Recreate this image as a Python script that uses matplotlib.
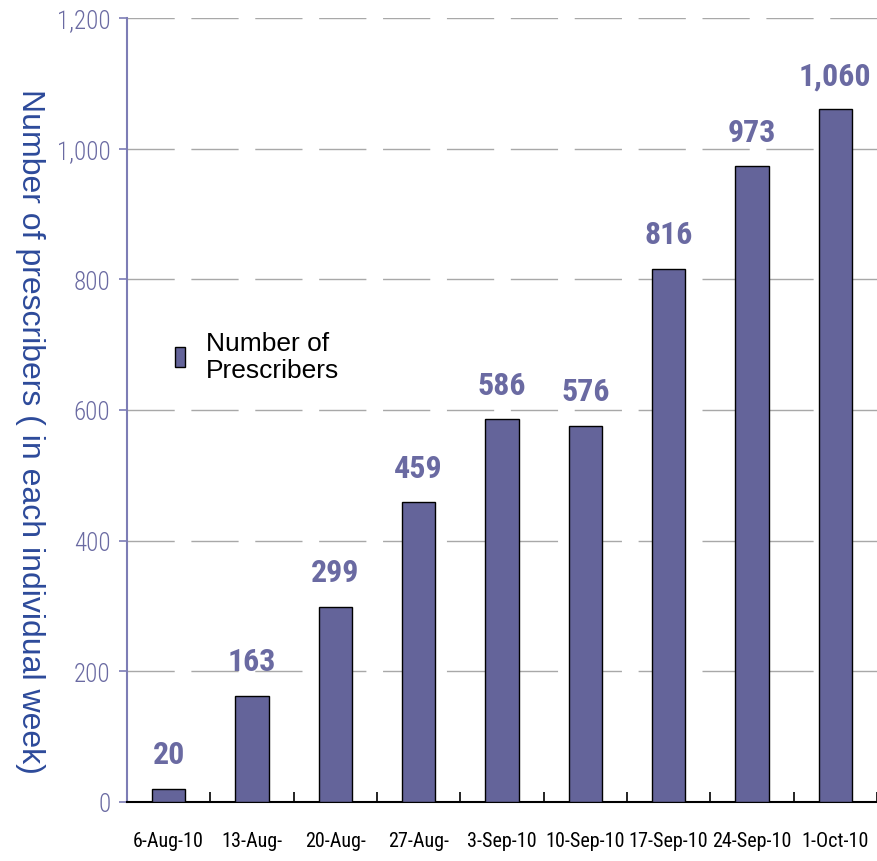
import matplotlib.pyplot as plt
from matplotlib.ticker import FuncFormatter, MultipleLocator
import numpy as np

weeks = ['6-Aug-10', '13-Aug-', '20-Aug-', '27-Aug-', '3-Sep-10',
         '10-Sep-10', '17-Sep-10', '24-Sep-10', '1-Oct-10']
prescribers = [20, 163, 299, 459, 586, 576, 816, 973, 1060]

bar_color = '#64649A'
axis_purple = '#7D7DB5'
label_purple = '#6A6AA2'
narrow = ['Roboto Condensed', 'Liberation Sans', 'DejaVu Sans']
plain = ['Liberation Sans', 'DejaVu Sans']

fig = plt.figure(figsize=(8.77, 8.62), dpi=100)
ax = fig.add_axes([127 / 877, 59 / 862, 750 / 877, 784 / 862])

x = np.arange(len(weeks))
bars = ax.bar(x, prescribers, width=0.4, color=bar_color, edgecolor='black',
              linewidth=1.0, label='Number of\nPrescribers', zorder=3)

ax.bar_label(bars, labels=[f'{v:,}' for v in prescribers], padding=14,
             fontsize=23, fontweight='bold', color=label_purple, family=narrow)

ax.set_xlim(-0.5, len(weeks) - 0.5)
ax.set_ylim(0, 1200)
ax.yaxis.set_major_locator(MultipleLocator(200))
ax.yaxis.set_major_formatter(FuncFormatter(lambda v, p: f'{v:,.0f}'))

# dashed gridlines
ax.grid(axis='y', color='#A8A8A8', linewidth=1.0, linestyle=(0, (34, 12)), zorder=0)

ax.set_xticks(x)
ax.set_xticklabels(weeks)
ax.set_xticks(np.arange(len(weeks) + 1) - 0.5, minor=True)
ax.tick_params(axis='x', which='major', length=0, pad=21, labelsize=14.5,
               labelfontfamily=narrow)
ax.tick_params(axis='x', which='minor', direction='in', length=7, width=1.2, color='black')
ax.tick_params(axis='y', direction='out', length=6, width=1.2, color=axis_purple,
               labelcolor=label_purple, labelsize=18, pad=6, labelfontfamily=narrow)
for t in ax.get_yticklabels():
    t.set_fontweight('light')

for side in ['top', 'right']:
    ax.spines[side].set_visible(False)
ax.spines['bottom'].set_color('black')
ax.spines['bottom'].set_linewidth(1.5)
ax.spines['left'].set_color(axis_purple)
ax.spines['left'].set_linewidth(1.5)

fig.text(0.034, 0.5, 'Number of prescribers ( in each individual week)',
         rotation=270, va='center', ha='center', fontsize=23,
         family=plain, color='#2D4A9A')

ax.legend(loc='upper left', bbox_to_anchor=(0.047, 0.618), frameon=False,
          borderpad=0, handlelength=0.35, handleheight=0.8, handletextpad=0.8,
          prop={'family': plain, 'size': 19})

fig.savefig('out.png', dpi=100)
